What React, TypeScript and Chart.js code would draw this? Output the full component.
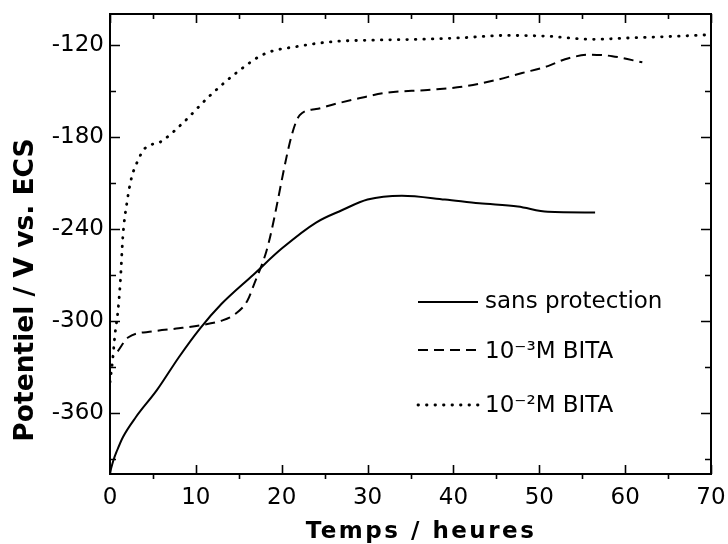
import React, { useEffect, useRef } from "react";
import { Chart, registerables } from "chart.js";

Chart.register(...registerables);

// ---- Data ----
const xTickValues = [0, 10, 20, 30, 40, 50, 60, 70];
const xTickLabels = ["0", "10", "20", "30", "40", "50", "60", "70"];
const xMinorValues = [5, 15, 25, 35, 45, 55, 65];
const yTickValues = [-360, -300, -240, -180, -120];
const yTickLabels = ["-360", "-300", "-240", "-180", "-120"];
const yMinorValues = [-390, -330, -270, -210, -150];

const xTitle = "Temps / heures";
const yTitle = "Potentiel / V vs. ECS";

const seriesLabels = ["sans protection", "10\u207B\u00B3M BITA", "10\u207B\u00B2M BITA"];

const solidTimes = [0, 0.4, 0.8, 1.5, 3, 5.5, 8, 10.5, 13, 16.7, 20, 24, 27, 30, 34, 39, 43, 47.5, 51, 56.5];
const solidValues = [-399, -391, -385, -376, -363, -345, -324, -305, -289, -270, -253, -236, -228, -221, -218.5, -221, -223.5, -225.5, -229, -229.5];

const dashTimes = [0.9, 2.1, 5, 8, 10.5, 13, 14.5, 16, 16.8, 18.2, 22.1, 24, 26, 29, 32, 37, 41, 45, 48, 51, 53, 56, 58.5, 62];
const dashValues = [-320, -311, -307, -305, -303, -300, -296, -287, -276, -255, -166, -162, -159, -155, -151.5, -149.5, -147.5, -143, -138.5, -134, -129.5, -126.5, -127.5, -131.5];

const dotTimes = [0, 0.3, 0.6, 0.9, 1.2, 1.5, 2.0, 2.5, 3.3, 4.0, 6, 8.5, 11.5, 14.8, 18, 22, 26, 31, 36, 41, 46, 51, 56, 61, 66, 70];
const dotValues = [-340, -326, -308, -295, -275, -245, -222, -207, -195, -188, -183, -171, -154, -138, -126, -121, -118, -117, -116.5, -115.5, -114, -114.5, -116.5, -115.5, -114.5, -113.5];

const pairs = (xs: number[], ys: number[]) => xs.map((x, i) => ({ x, y: ys[i] }));

const FONT = '"DejaVu Sans", "Liberation Sans", Arial, sans-serif';

const zeroPad = (scale: any) => {
  scale.paddingTop = 0;
  scale.paddingBottom = 0;
  scale.paddingLeft = 0;
  scale.paddingRight = 0;
};

const framePlugin = {
  id: "frame",
  afterDatasetsDraw(chart: any) {
    const { ctx, chartArea: a, scales } = chart;
    const x = scales.x;
    const y = scales.y;
    ctx.save();
    ctx.strokeStyle = "#000";
    ctx.lineWidth = 2;
    ctx.setLineDash([]);
    ctx.strokeRect(a.left, a.top, a.right - a.left, a.bottom - a.top);

    ctx.lineWidth = 1.6;
    ctx.beginPath();
    for (const v of xTickValues) {
      const px = Math.round(x.getPixelForValue(v)) + 0.5;
      ctx.moveTo(px, a.bottom);
      ctx.lineTo(px, a.bottom - 9);
      ctx.moveTo(px, a.top);
      ctx.lineTo(px, a.top + 9);
    }
    for (const v of xMinorValues) {
      const px = Math.round(x.getPixelForValue(v)) + 0.5;
      ctx.moveTo(px, a.bottom);
      ctx.lineTo(px, a.bottom + 5);
      ctx.moveTo(px, a.top);
      ctx.lineTo(px, a.top + 5);
    }
    for (const v of yTickValues) {
      const py = Math.round(y.getPixelForValue(v)) + 0.5;
      ctx.moveTo(a.left, py);
      ctx.lineTo(a.left + 10, py);
      ctx.moveTo(a.right, py);
      ctx.lineTo(a.right - 10, py);
    }
    for (const v of yMinorValues) {
      const py = Math.round(y.getPixelForValue(v)) + 0.5;
      ctx.moveTo(a.left, py);
      ctx.lineTo(a.left + 6, py);
      ctx.moveTo(a.right, py);
      ctx.lineTo(a.right - 6, py);
    }
    ctx.stroke();

    // axis titles
    ctx.fillStyle = "#000";
    ctx.textAlign = "center";
    ctx.textBaseline = "alphabetic";
    ctx.font = `bold 23px ${FONT}`;
    try { (ctx as any).letterSpacing = "2.5px"; } catch (e) {}
    ctx.fillText(xTitle, 421, 538);
    try { (ctx as any).letterSpacing = "0px"; } catch (e) {}

    ctx.save();
    ctx.translate(33, 290);
    ctx.rotate(-Math.PI / 2);
    ctx.font = `bold 26.5px ${FONT}`;
    ctx.fillText(yTitle, 0, 0);
    ctx.restore();

    // legend
    const rowY = [302, 350, 405];
    const baseOff = [6, 8, 7];
    ctx.textAlign = "left";
    ctx.font = `23px ${FONT}`;
    chart.data.datasets.forEach((ds: any, i: number) => {
      ctx.save();
      ctx.strokeStyle = ds.borderColor;
      ctx.lineWidth = ds.borderWidth;
      ctx.lineCap = ds.borderCapStyle || "butt";
      ctx.setLineDash(ds.borderDash || []);
      ctx.beginPath();
      ctx.moveTo(418, rowY[i]);
      ctx.lineTo(478, rowY[i]);
      ctx.stroke();
      ctx.restore();
      ctx.fillText(ds.label, 485, rowY[i] + baseOff[i]);
    });
    ctx.restore();
  },
};

export default function App() {
  const canvasRef = useRef<HTMLCanvasElement | null>(null);

  useEffect(() => {
    const canvas = canvasRef.current;
    if (!canvas) return;
    const chart = new Chart(canvas, {
      type: "line",
      data: {
        datasets: [
          {
            label: seriesLabels[0],
            data: pairs(solidTimes, solidValues),
            borderColor: "#000",
            borderWidth: 2,
            pointRadius: 0,
            fill: false,
            cubicInterpolationMode: "monotone",
          },
          {
            label: seriesLabels[1],
            data: pairs(dashTimes, dashValues),
            borderColor: "#000",
            borderWidth: 2,
            borderDash: [10, 6],
            pointRadius: 0,
            fill: false,
            cubicInterpolationMode: "monotone",
          },
          {
            label: seriesLabels[2],
            data: pairs(dotTimes, dotValues),
            borderColor: "#000",
            borderWidth: 2.8,
            borderDash: [0.5, 8],
            borderCapStyle: "round",
            pointRadius: 0,
            fill: false,
            cubicInterpolationMode: "monotone",
          },
        ],
      },
      options: {
        animation: false,
        responsive: false,
        maintainAspectRatio: false,
        layout: { padding: { left: 0, top: 14, right: 17, bottom: 0 } },
        plugins: { legend: { display: false }, tooltip: { enabled: false } },
        scales: {
          x: {
            type: "linear",
            min: 0,
            max: 70,
            grid: { display: false, drawTicks: false },
            border: { display: false },
            afterBuildTicks: (scale: any) => {
              scale.ticks = xTickValues.map((v) => ({ value: v }));
            },
            afterFit: (scale: any) => {
              scale.height = 70;
              zeroPad(scale);
            },
            ticks: {
              color: "#000",
              font: { family: FONT, size: 23 },
              padding: 10,
              maxRotation: 0,
              autoSkip: false,
              callback: (v: any) => {
                const i = xTickValues.indexOf(Number(v));
                return i >= 0 ? xTickLabels[i] : "";
              },
            },
          },
          y: {
            type: "linear",
            min: -400,
            max: -100,
            grid: { display: false, drawTicks: false },
            border: { display: false },
            afterBuildTicks: (scale: any) => {
              scale.ticks = yTickValues.map((v) => ({ value: v }));
            },
            afterFit: (scale: any) => {
              scale.width = 110;
              zeroPad(scale);
            },
            ticks: {
              color: "#000",
              font: { family: FONT, size: 23 },
              padding: 6,
              autoSkip: false,
              callback: (v: any) => {
                const i = yTickValues.indexOf(Number(v));
                return i >= 0 ? yTickLabels[i] : "";
              },
            },
          },
        },
      },
      plugins: [framePlugin],
    } as any);
    return () => chart.destroy();
  }, []);

  return (
    <div style={{ position: "fixed", left: 0, top: 0, width: 728, height: 544, background: "#fff" }}>
      <canvas ref={canvasRef} width={728} height={544} style={{ display: "block" }} />
    </div>
  );
}
